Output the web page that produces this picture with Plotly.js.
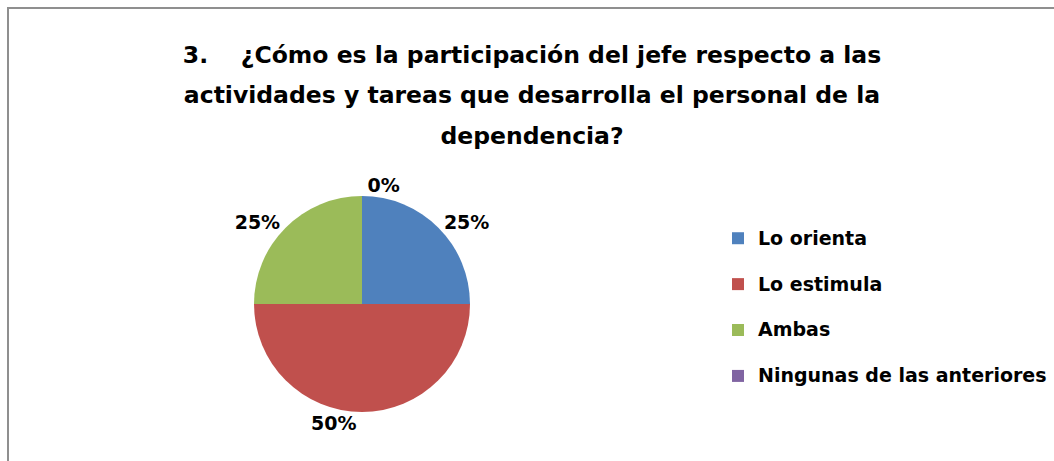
<!DOCTYPE html>
<html>
<head>
<meta charset="utf-8">
<script src="https://cdn.plot.ly/plotly-3.0.1.min.js"></script>
<style>
  html, body { margin: 0; padding: 0; background: #fff; }
  #wrap { position: relative; width: 1054px; height: 461px; overflow: hidden; }
  #chart { width: 1054px; height: 461px; }
  #frame { position: absolute; left: 7px; top: 7px; width: 1100px; height: 500px;
           border-left: 2px solid #8f8f8f; border-top: 2px solid #8f8f8f; pointer-events: none; }
</style>
</head>
<body>
<div id="wrap">
  <div id="chart"></div>
  <div id="frame"></div>
</div>
<script>
// ---- data ----
const categories = ["Lo orienta", "Lo estimula", "Ambas", "Ningunas de las anteriores"];
const percents = [25, 50, 25, 0];
const sliceColors = ["#4F81BD", "#C0504D", "#9BBB59", "#8064A2"];
const titleLines = [
  "3.\u00A0\u00A0\u00A0\u00A0¿Cómo es la participación del jefe respecto a las",
  "actividades y tareas que desarrolla el personal de la",
  "dependencia?"
];

// legend entries get an empty second line so the rows are spaced like the original
const legendLabels = categories.map(c => '<span style="font-size:19px">' + c + '</span><br>\u00A0');

const trace = {
  type: "pie",
  labels: legendLabels,
  values: percents,
  sort: false,
  direction: "clockwise",
  rotation: 0,
  marker: { colors: sliceColors, line: { width: 0 } },
  textposition: "outside",
  texttemplate: "%{value}%",
  textfont: { family: "DejaVu Sans", size: 19, color: "#000", weight: "bold" },
  hoverinfo: "none",
  domain: { x: [254 / 1054, 470 / 1054], y: [(461 - 412) / 461, (461 - 196) / 461] },
  showlegend: true
};

const titleText = titleLines.map(l => '<span style="font-size:23.5px">' + l + '</span>').join("<br>");

const layout = {
  width: 1054,
  height: 461,
  margin: { l: 0, r: 0, t: 0, b: 0 },
  paper_bgcolor: "#fff",
  title: {
    text: titleText,
    font: { family: "DejaVu Sans", size: 31, color: "#000", weight: "bold" },
    x: 532 / 1054,
    xanchor: "center",
    y: 1 - 63 / 461,
    yanchor: "top",
    yref: "container"
  },
  legend: {
    x: 718 / 1054,
    y: 1 - 221 / 461,
    xanchor: "left",
    yanchor: "top",
    valign: "top",
    font: { family: "DejaVu Sans", size: 16.5, color: "#000", weight: "bold" },
    bgcolor: "rgba(0,0,0,0)"
  },
  showlegend: true
};

Plotly.newPlot("chart", [trace], layout, { displayModeBar: false, staticPlot: true });
</script>
</body>
</html>
